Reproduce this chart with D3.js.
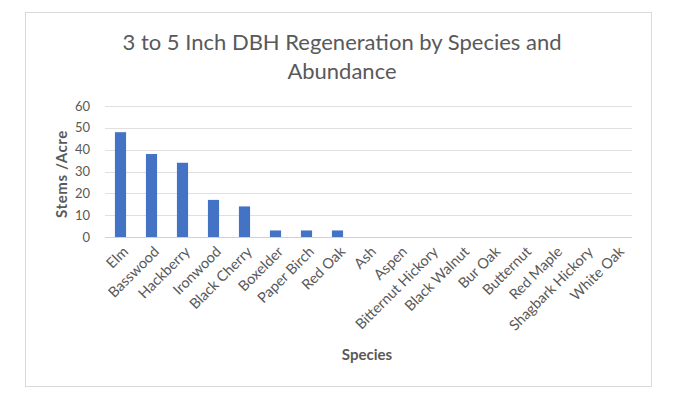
<!DOCTYPE html>
<html>
<head>
<meta charset="utf-8">
<script src="https://cdn.jsdelivr.net/npm/d3@7"></script>
<style>
  body { margin: 0; background: #fff; }
  text { font-family: Lato, "Open Sans", sans-serif; }
</style>
</head>
<body>
<svg id="chart" width="682" height="407"></svg>
<script>
// species on the x axis
const species = ['Elm', 'Basswood', 'Hackberry', 'Ironwood', 'Black Cherry', 'Boxelder',
  'Paper Birch', 'Red Oak', 'Ash', 'Aspen', 'Bitternut Hickory', 'Black Walnut',
  'Bur Oak', 'Butternut', 'Red Maple', 'Shagbark Hickory', 'White Oak'];
// stems per acre
const stems = [48, 38, 34, 17, 14, 3, 3, 3, 0, 0, 0, 0, 0, 0, 0, 0, 0];
const yTicks = [0, 10, 20, 30, 40, 50, 60];
const titleLines = ['3 to 5 Inch DBH Regeneration by Species and', 'Abundance'];

const svg = d3.select('#chart');

// chart frame
svg.append('rect')
  .attr('x', 25.5).attr('y', 12.5)
  .attr('width', 626).attr('height', 374)
  .attr('fill', '#fff').attr('stroke', '#d9d9d9');

const plot = { left: 105, right: 632, top: 106, bottom: 237 };

const x = d3.scaleBand()
  .domain(species)
  .range([plot.left, plot.right])
  .paddingInner(0.64).paddingOuter(0.32);

const y = d3.scaleLinear()
  .domain([0, 60])
  .range([plot.bottom, plot.top]);

// gridlines
svg.append('g')
  .selectAll('line')
  .data(yTicks)
  .join('line')
  .attr('x1', plot.left).attr('x2', plot.right)
  .attr('y1', d => Math.round(y(d)) + 0.5).attr('y2', d => Math.round(y(d)) + 0.5)
  .attr('stroke', d => d === 0 ? '#d0d0d0' : '#e0e0e0')
  .attr('stroke-width', 1);

// y tick labels
svg.append('g')
  .selectAll('text')
  .data(yTicks)
  .join('text')
  .attr('x', 90)
  .attr('y', d => y(d))
  .attr('dy', '0.35em')
  .attr('text-anchor', 'end')
  .attr('font-size', 13)
  .attr('fill', '#595959')
  .text(d => d);

// bars
svg.append('g')
  .selectAll('rect')
  .data(species.map((s, i) => ({ s, v: stems[i] })).filter(d => d.v > 0))
  .join('rect')
  .attr('x', d => x(d.s))
  .attr('y', d => y(d.v))
  .attr('width', x.bandwidth())
  .attr('height', d => y(0) - y(d.v))
  .attr('fill', '#4472c4');

// x labels, rotated
svg.append('g')
  .selectAll('text')
  .data(species)
  .join('text')
  .attr('transform', d => `translate(${x(d) + x.bandwidth() / 2 + 5},${plot.bottom + 12}) rotate(-45)`)
  .attr('text-anchor', 'end')
  .attr('dy', '0.35em')
  .attr('font-size', 14.5)
  .attr('fill', '#595959')
  .text(d => d);

// title
svg.append('g')
  .selectAll('text')
  .data(titleLines)
  .join('text')
  .attr('x', 342)
  .attr('y', (d, i) => 50 + i * 29)
  .attr('text-anchor', 'middle')
  .attr('font-size', 22)
  .attr('fill', '#595959')
  .text(d => d);

// axis titles
svg.append('text')
  .attr('transform', 'translate(67,174) rotate(-90)')
  .attr('text-anchor', 'middle')
  .attr('font-size', 15)
  .attr('font-weight', 'bold')
  .attr('letter-spacing', 0.6)
  .attr('fill', '#595959')
  .text('Stems /Acre');

svg.append('text')
  .attr('x', 367).attr('y', 360)
  .attr('text-anchor', 'middle')
  .attr('font-size', 15)
  .attr('font-weight', 'bold')
  .attr('fill', '#595959')
  .text('Species');
</script>
</body>
</html>
